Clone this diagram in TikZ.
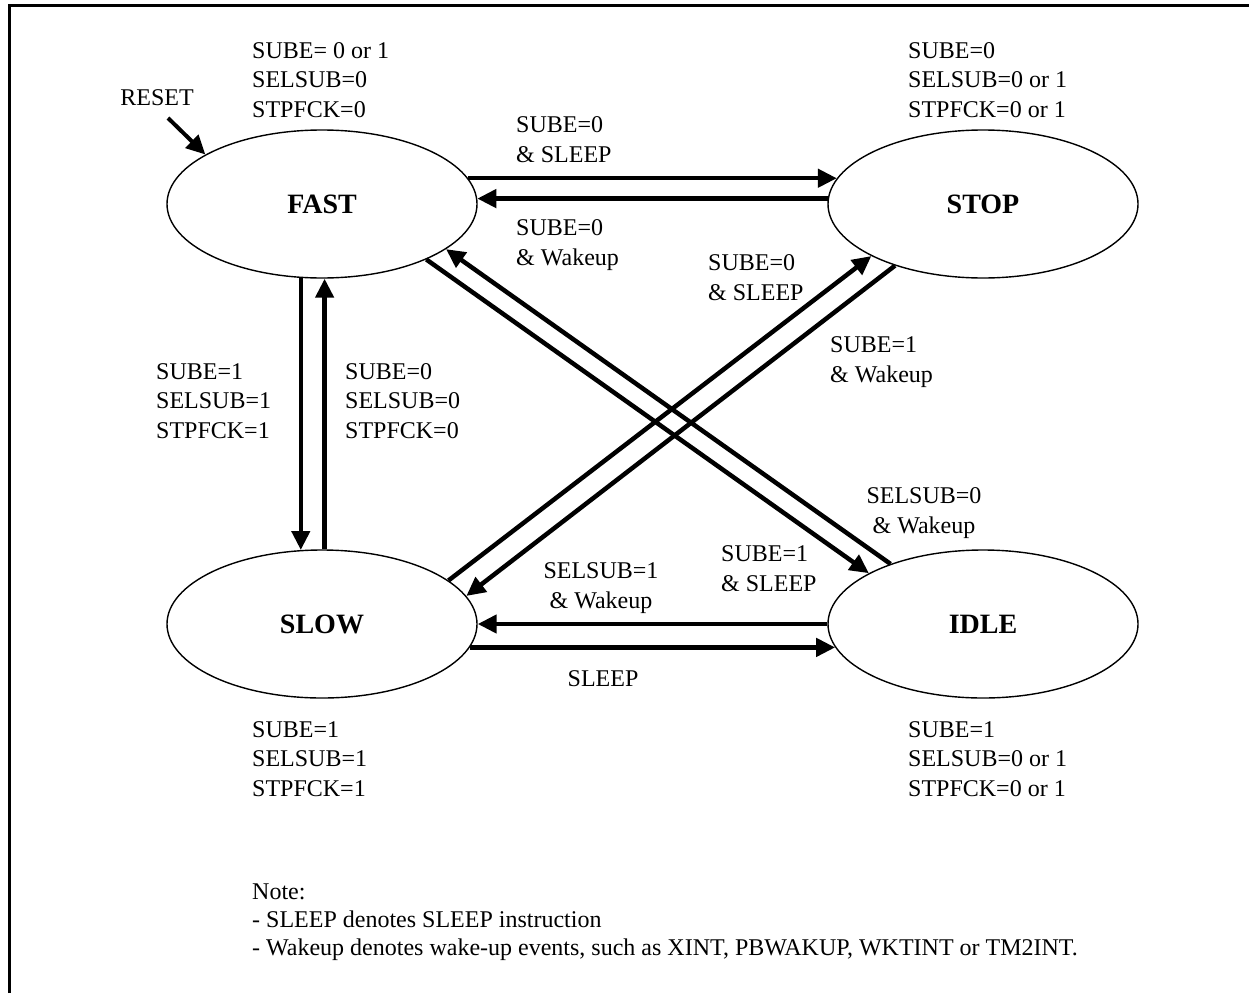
\documentclass[tikz,border=0pt]{standalone}
\usepackage{fontspec}
\setmainfont{Liberation Serif}
\usetikzlibrary{arrows.meta,shapes.geometric}

\begin{document}
\begin{tikzpicture}[x=1pt, y=-1pt,
  mode/.style={draw, ellipse, line width=1.4pt, minimum width=310pt, minimum height=148pt,
               inner sep=0pt, font=\fontsize{28}{34}\selectfont\bfseries},
  cond/.style={inner sep=0pt, align=left, anchor=base west, font=\fontsize{24}{29.5}\selectfont},
  condc/.style={cond, align=center, anchor=base},
  arr/.style={-{Triangle[length=19pt,width=18pt]}, line width=4.5pt}]
\useasboundingbox (0,0) rectangle (1249,993);
\draw[line width=3pt] (9,993) -- (9,5.5) -- (1249,5.5);
% power modes
\foreach \n/\p/\l in {fast/{322,204}/FAST, stop/{983,204}/STOP, slow/{322,624}/SLOW, idle/{983,624}/IDLE}
  \node[mode] (\n) at (\p) {\l};
% register settings of each mode (placed at the baseline of the last line)
\foreach \n/\p/\l in
  {fastc/{252,117}/{SUBE= 0 or 1\\SELSUB=0\\STPFCK=0},
   stopc/{908,117}/{SUBE=0\\SELSUB=0 or 1\\STPFCK=0 or 1},
   slowc/{252,796}/{SUBE=1\\SELSUB=1\\STPFCK=1},
   idlec/{908,796}/{SUBE=1\\SELSUB=0 or 1\\STPFCK=0 or 1}}
  \node[cond] (\n) at (\p) {\l};
% transition conditions
\foreach \n/\s/\p/\l in
  {c0/cond/{516,162}/{SUBE=0\\\& SLEEP}, c1/cond/{516,265}/{SUBE=0\\\& Wakeup},
   c2/cond/{708,300}/{SUBE=0\\\& SLEEP}, c3/cond/{830,382}/{SUBE=1\\\& Wakeup},
   c4/condc/{924,533}/{SELSUB=0\\\& Wakeup}, c5/cond/{721,591}/{SUBE=1\\\& SLEEP},
   c6/condc/{601,608}/{SELSUB=1\\\& Wakeup}, c7/condc/{603,686}/SLEEP,
   c8/cond/{156,438}/{SUBE=1\\SELSUB=1\\STPFCK=1}, c9/cond/{345,438}/{SUBE=0\\SELSUB=0\\STPFCK=0}}
  \node[\s] (\n) at (\p) {\l};
\node[condc] (reset) at (157,105) {RESET};
\coordinate (rst) at (168,118);
\draw[arr, line width=4pt] (rst) -- (fast.157);
\foreach \a/\b in {fast.10/stop.170, stop.178/fast.2, fast.254/slow.106, slow.88/fast.272,
  fast.332/idle.156, idle.147/fast.340, slow.19/stop.205, stop.215/slow.11,
  idle.180/slow.0, slow.351/idle.189}
  \draw[arr] (\a) -- (\b);
\node[cond, font=\fontsize{24}{28}\selectfont] (note) at (252,955)
  {Note:\\- SLEEP denotes SLEEP instruction\\- Wakeup denotes wake-up events, such as XINT, PBWAKUP, WKTINT or TM2INT.};
\end{tikzpicture}
\end{document}
